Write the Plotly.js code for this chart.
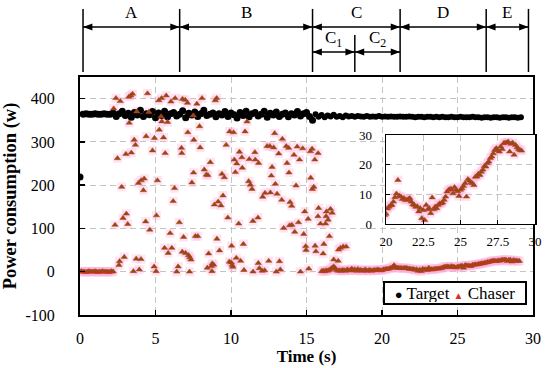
<!DOCTYPE html>
<html>
<head>
<meta charset="utf-8">
<script src="https://cdn.plot.ly/plotly-3.0.1.min.js"></script>
<style>html,body{margin:0;padding:0;background:#fff}#chart{width:550px;height:368px}</style>
</head>
<body>
<div id="chart"></div>
<script>
// ---------------- data ----------------
// Target power before and during the chaser's transient (t = 0 .. 15.4 s, every 0.2 s)
const targetEarlyStart = 0;
const targetEarlyStep = 0.2;
const targetEarlyPower = [
  219,
  364,365,364,364,365,364,364,365,364,364,
  367,359,365,371,361,366,357,368,362,373,
  359,365,363,370,356,367,361,371,358,365,
  368,360,364,372,356,366,362,369,359,365,
  373,361,364,367,358,365,362,370,359,367,
  363,355,368,361,371,358,365,368,360,364,
  371,357,366,362,369,359,364,367,358,365,
  362,370,360,365,368,359,350
];
// Target power afterwards (t = 15.6 .. 29.2 s, every 0.2 s)
const targetLateStart = 15.6;
const targetLateStep = 0.2;
const targetLatePower = [
  364,358,362,357,361,359,363,358,360,357,
  361,359,360,358,360,359,358,360,358,359,
  358,360,358,359,358,359,358,358,359,358,
  358,359,358,357,358,358,357,358,358,357,
  358,357,358,357,357,358,357,357,358,357,
  357,357,358,357,357,356,357,357,356,357,
  357,356,357,357,356,357,357,356,357
];

// Chaser power while idle (t = 0 .. 2.2 s, every 0.1 s)
const chaserIdleStart = 0;
const chaserIdleStep = 0.1;
const chaserIdlePower = [0,1,0,0,-1,0,1,0,0,0,1,0,-1,0,0,1,0,0,0,-1,0,1,0];

// Chaser power, scattered phase (A, B, start of C)
const chaserScatterTime = [
  2.23,2.32,2.38,2.48,2.58,2.62,2.67,2.76,2.85,2.93,3.04,3.07,3.16,3.23,3.26,3.36,3.40,3.48,3.54,3.59,
  3.67,3.72,3.76,3.87,3.93,4.04,4.05,4.20,4.25,4.35,4.38,4.47,4.56,4.62,4.80,4.91,4.93,5.04,5.06,5.13,
  5.22,5.25,5.37,5.40,5.42,5.53,5.60,5.64,5.71,5.80,5.84,5.97,6.02,6.08,6.17,6.26,6.30,6.41,6.50,6.58,
  6.72,6.74,6.77,6.79,6.86,6.97,6.99,7.12,7.14,7.19,7.25,7.27,7.35,7.41,7.50,7.52,7.54,7.64,7.74,7.80,
  7.92,7.96,8.08,8.23,8.36,8.43,8.47,8.52,8.63,8.70,8.74,8.76,8.85,8.90,8.96,9.05,9.07,9.15,9.24,9.34,
  9.40,9.47,9.56,9.68,9.79,9.89,9.91,10.02,10.04,10.08,10.12,10.17,10.22,10.29,10.35,10.38,10.51,10.56,10.64,10.72,
  10.75,10.82,10.86,10.93,11.06,11.17,11.21,11.28,11.39,11.45,11.46,11.58,11.61,11.79,11.81,11.83,11.88,12.06,12.10,12.23,
  12.25,12.39,12.50,12.57,12.61,12.67,12.72,12.83,12.89,12.94,13.00,13.05,13.16,13.21,13.27,13.36,13.40,13.49,13.66,13.71,
  13.82,13.84,13.88,13.91,14.02,14.03,14.17,14.22,14.31,14.38,14.47,14.54,14.60,14.75,14.82,14.88,14.95,14.97,15.11,15.15,
  15.26,15.28,15.37,15.39,15.48,15.55,15.57,15.62,15.76,15.77,15.80,15.93,16.10,16.15,16.26,16.30,16.32,16.43,16.52,16.59,
  16.70,16.80,17.10,17.12,17.25,17.43,17.63
];
const chaserScatterPower = [
  377,108,401,262,15,24,394,196,124,34,272,134,110,404,344,407,275,411,1,305,
  293,30,370,205,5,29,211,188,215,116,313,412,369,97,280,12,309,1,130,211,
  396,328,359,401,347,310,55,274,407,346,43,89,393,55,163,193,401,0,12,114,
  286,274,46,399,80,397,43,390,322,38,0,33,28,206,361,229,305,82,388,82,
  336,287,401,236,224,9,223,42,253,13,1,19,16,155,396,401,76,162,49,153,
  226,176,218,293,125,23,324,21,60,15,11,322,259,230,32,250,111,277,25,264,
  240,64,4,324,347,209,260,201,191,117,0,276,259,125,20,251,8,2,173,3,
  182,290,25,290,183,222,242,287,320,203,0,180,273,24,5,166,307,101,290,251,
  286,229,107,161,152,108,270,92,199,289,114,259,0,285,87,139,59,50,122,7,
  278,217,284,191,196,259,60,47,128,274,147,111,42,64,111,128,139,120,82,145,
  136,28,25,51,55,58,58
];

// Chaser power while tracking (t = 16.0 .. 29.1 s, every 0.1 s)
const chaserTrackStart = 16.0;
const chaserTrackStep = 0.1;
const chaserTrackPower = [
  1,2,1,3,2,4,6,9,12,8,
  4,2,3,2,4,3,2,5,3,4,
  7,3,5,2,6,3,4,2,3,5,
  2,3,4,2,3,4,3,5,4,3,
  3.4,5.2,5.8,6.2,6.4,7.5,9.0,10.2,14.8,9.5,
  9.2,8.4,8.7,8.1,8.1,8.4,8.7,7.5,6.6,6.4,
  5.8,5.9,4.2,5.3,1.9,4.7,1.3,6.4,4.9,5.3,
  3.6,8.9,4.9,5.8,5.3,6.4,6.9,6.9,7.2,8.1,
  9.2,10.9,11.5,11.8,11.7,10.3,12.4,11.5,11.0,9.4,
  11.5,12.0,12.8,13.7,9.2,15.1,14.6,14.0,13.7,13.1,
  15.9,16.0,16.9,16.5,17.6,18.3,19.5,19.3,20.5,21.0,
  22.2,22.7,23.8,24.9,25.5,24.9,24.4,26.1,25.2,27.2,
  27.4,27.4,27.7,24.4,27.0,27.4,23.3,26.6,25.8,25.2,
  24.9,24.7
];

// Phase boundaries (s)
const phaseEdges = [0.2, 6.6, 15.4, 21.2, 26.9, 29.7];
const phaseNames = ['A', 'B', 'C', 'D', 'E'];
const subPhaseEdges = [15.4, 18.2, 21.2];
const subPhaseNames = ['C<sub>1</sub>', 'C<sub>2</sub>'];

const xTicks = [0, 5, 10, 15, 20, 25, 30];
const yTicks = [-100, 0, 100, 200, 300, 400];
const yTickLabels = ['-100', '0', '100', '200', '300', '400'];
const insetXTicks = [20, 22.5, 25, 27.5, 30];
const insetYTicks = [0, 10, 20, 30];

// ---------------- styles ----------------
const SERIF = 'Liberation Serif';
const HALO = 'rgba(250,175,222,0.32)';
const TRI_FILL = '#7c5516';
const TRI_LINE = '#de2c1c';

function halo(trace) {
  return Object.assign({}, trace, {
    type: 'scatter', mode: 'markers', hoverinfo: 'skip', showlegend: false,
    marker: {symbol: 'square', size: 9, color: HALO, line: {width: 0}}
  });
}
function chaser(trace) {
  return Object.assign({}, trace, {
    type: 'scatter', mode: 'markers', name: 'Chaser', legendgroup: 'chaser',
    marker: {symbol: 'triangle-up', size: 5.5, color: TRI_FILL, line: {color: TRI_LINE, width: 0.5}}
  });
}
function target(x0, dx, y, size) {
  return {type: 'scatter', mode: 'markers', name: 'Target', legendgroup: 'target',
          x0: x0, dx: dx, y: y, xaxis: 'x', yaxis: 'y',
          marker: {symbol: 'circle', size: size, color: '#000'}};
}

const idle = {x0: chaserIdleStart, dx: chaserIdleStep, y: chaserIdlePower, xaxis: 'x', yaxis: 'y'};
const scat = {x: chaserScatterTime, y: chaserScatterPower, xaxis: 'x', yaxis: 'y'};
const track = {x0: chaserTrackStart, dx: chaserTrackStep, y: chaserTrackPower, xaxis: 'x', yaxis: 'y'};
const trackInset = {x0: chaserTrackStart, dx: chaserTrackStep, y: chaserTrackPower, xaxis: 'x2', yaxis: 'y2'};

const data = [
  halo(idle), halo(scat), halo(track),
  target(targetEarlyStart, targetEarlyStep, targetEarlyPower, 7),
  target(targetLateStart, targetLateStep, targetLatePower, 6),
  chaser(idle), chaser(scat), chaser(track),
  halo(trackInset), chaser(trackInset)
];

// ---------------- phase arrows (top) ----------------
const Y_LINE_BOT = 1.021, Y_LINE_TOP = 1.286, Y_SUB_TOP = 1.176;
const Y_ARROW = 1.210, Y_SUB_ARROW = 1.105;
const Y_LABEL = 1.269, Y_SUB_LABEL = 1.158;
const HEAD_L = 0.62, HEAD_H = 0.0145;

const shapes = [];
const annotations = [];
function vline(x, y0, y1) {
  shapes.push({type: 'line', xref: 'x', yref: 'paper', x0: x, x1: x, y0: y0, y1: y1,
               line: {color: '#000', width: 1.5}});
}
function dblArrow(xa, xb, y) {
  shapes.push({type: 'line', xref: 'x', yref: 'paper', x0: xa, x1: xb, y0: y, y1: y,
               line: {color: '#000', width: 1.5}});
  shapes.push({type: 'path', xref: 'x', yref: 'paper', fillcolor: '#000', line: {width: 0},
               path: `M${xa},${y} L${xa + HEAD_L},${y + HEAD_H} L${xa + HEAD_L},${y - HEAD_H} Z`});
  shapes.push({type: 'path', xref: 'x', yref: 'paper', fillcolor: '#000', line: {width: 0},
               path: `M${xb},${y} L${xb - HEAD_L},${y + HEAD_H} L${xb - HEAD_L},${y - HEAD_H} Z`});
}
phaseEdges.forEach(e => vline(e, Y_LINE_BOT, Y_LINE_TOP));
vline(subPhaseEdges[1], Y_LINE_BOT, Y_SUB_TOP);
for (let i = 0; i < phaseNames.length; i++) {
  dblArrow(phaseEdges[i], phaseEdges[i + 1], Y_ARROW);
  annotations.push({xref: 'x', yref: 'paper', x: (phaseEdges[i] + phaseEdges[i + 1]) / 2, y: Y_LABEL,
                    xanchor: 'center', yanchor: 'middle',
                    text: phaseNames[i], showarrow: false, font: {family: SERIF, size: 17, color: '#000'}});
}
for (let i = 0; i < subPhaseNames.length; i++) {
  dblArrow(subPhaseEdges[i], subPhaseEdges[i + 1], Y_SUB_ARROW);
  annotations.push({xref: 'x', yref: 'paper', x: (subPhaseEdges[i] + subPhaseEdges[i + 1]) / 2, y: Y_SUB_LABEL,
                    xanchor: 'center', yanchor: 'middle',
                    text: subPhaseNames[i], showarrow: false, font: {family: SERIF, size: 17, color: '#000'}});
}

// legend box
annotations.push({
  xref: 'paper', yref: 'paper', x: 0.824, y: 0.0924, xanchor: 'center', yanchor: 'middle',
  text: "<span style='font-size:13px'>●</span> Target <span style='color:#de2c1c;font-size:10px'>▲</span> Chaser",
  showarrow: false, font: {family: SERIF, size: 17, color: '#000'},
  bgcolor: '#fff', bordercolor: '#000', borderwidth: 2, borderpad: 1, width: 138, height: 18
});

const gridStyle = {showgrid: true, gridcolor: '#c4c4c4', gridwidth: 1, griddash: '6px,4px', zeroline: false};
const lineStyle = {showline: true, linecolor: '#000', mirror: true, ticks: 'inside', tickcolor: '#000'};

const layout = {
  width: 550, height: 368,
  margin: {l: 80, r: 15, t: 77, b: 53, pad: 0},
  paper_bgcolor: '#fff', plot_bgcolor: '#fff',
  showlegend: false,
  font: {family: SERIF, size: 16, color: '#000'},
  xaxis: Object.assign({}, gridStyle, lineStyle, {
    domain: [0, 453 / 455], range: [0, 30], tickvals: xTicks, anchor: 'y',
    linewidth: 2, ticklen: 5, tickwidth: 1.5, ticklabelstandoff: 8,
    tickfont: {family: SERIF, size: 16},
    title: {text: 'Time (s)', font: {family: SERIF, size: 17, weight: 'bold'}, standoff: 4}
  }),
  yaxis: Object.assign({}, gridStyle, lineStyle, {
    domain: [0, 1], range: [-100, 450], tickvals: yTicks, ticktext: yTickLabels, anchor: 'x',
    linewidth: 2, ticklen: 5, tickwidth: 1.5, ticklabelstandoff: 20,
    tickfont: {family: SERIF, size: 16},
    title: {text: 'Power consumption (w)', font: {family: SERIF, size: 18.5, weight: 'bold'}, standoff: 5}
  }),
  xaxis2: Object.assign({}, gridStyle, lineStyle, {
    domain: [306 / 455, 1], range: [20, 30], tickvals: insetXTicks, anchor: 'y2',
    linewidth: 1.5, ticklen: 4, tickwidth: 1, ticklabelstandoff: 5,
    tickfont: {family: SERIF, size: 13}
  }),
  yaxis2: Object.assign({}, gridStyle, lineStyle, {
    domain: [0.3824, 0.7563], range: [0, 30], tickvals: insetYTicks, anchor: 'x2',
    linewidth: 1.5, ticklen: 4, tickwidth: 1, ticklabelstandoff: 10,
    tickfont: {family: SERIF, size: 13}
  }),
  shapes: shapes,
  annotations: annotations
};

Plotly.newPlot('chart', data, layout, {staticPlot: true, displayModeBar: false});
</script>
</body>
</html>
